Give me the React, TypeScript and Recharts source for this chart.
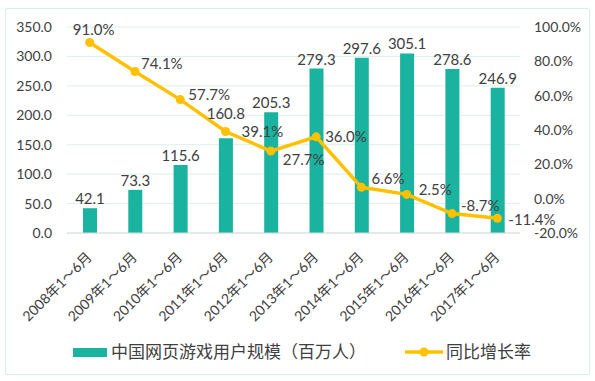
import React from "react"
import {
  ComposedChart,
  Bar,
  Line,
  XAxis,
  YAxis,
  CartesianGrid,
  LabelList,
  Legend,
} from "recharts"

const CATEGORIES = [
  "2008年1～6月",
  "2009年1～6月",
  "2010年1～6月",
  "2011年1～6月",
  "2012年1～6月",
  "2013年1～6月",
  "2014年1～6月",
  "2015年1～6月",
  "2016年1～6月",
  "2017年1～6月",
]
const USERS = [42.1, 73.3, 115.6, 160.8, 205.3, 279.3, 297.6, 305.1, 278.6, 246.9]
const GROWTH = [91.0, 74.1, 57.7, 39.1, 27.7, 36.0, 6.6, 2.5, -8.7, -11.4]
const LEFT_TICKS = [0, 50, 100, 150, 200, 250, 300, 350]
const RIGHT_TICKS = [-20, 0, 20, 40, 60, 80, 100]

const BAR_NAME = "中国网页游戏用户规模（百万人）"
const LINE_NAME = "同比增长率"

const TEAL = "#19b39f"
const GOLD = "#ffc000"
const TEXT = "#404040"
const FONT = "Lato, 'Noto Sans CJK SC', sans-serif"

// hand-placed label nudges, like the Excel original (dx, dy of baseline from dot)
const LINE_LABEL_NUDGE: [number, number][] = [
  [4, -7],
  [6, -2],
  [8, 0],
  [16, 5],
  [12, 14],
  [9, 5],
  [10, -3],
  [12, 1],
  [9, -3],
  [11, 7],
]

const data = CATEGORIES.map((name, i) => ({
  name,
  users: USERS[i],
  growth: GROWTH[i],
}))

function XTick(props: any) {
  const { x, y, payload } = props
  const px = x + 3
  const py = y + 25
  return (
    <text
      x={px}
      y={py}
      transform={`rotate(-45, ${px}, ${py})`}
      textAnchor="end"
      fontSize={14}
      fill={TEXT}
      fontFamily={FONT}
    >
      {payload.value}
    </text>
  )
}

function BarValueLabel(props: any) {
  const { x, y, width, value, index } = props
  // 2011 label sits higher so it clears the line
  const lift = index === 3 ? 15 : 0
  return (
    <text
      x={x + width / 2}
      y={y - 4 - lift}
      textAnchor="middle"
      fontSize={15}
      fill={TEXT}
      fontFamily={FONT}
    >
      {Number(value).toFixed(1)}
    </text>
  )
}

function LineValueLabel(props: any) {
  const { x, y, value, index } = props
  const [dx, dy] = LINE_LABEL_NUDGE[index] ?? [10, 5]
  return (
    <text
      x={x + dx}
      y={y + dy}
      textAnchor={index === 0 ? "middle" : "start"}
      fontSize={15}
      fill={TEXT}
      fontFamily={FONT}
    >
      {Number(value).toFixed(1)}%
    </text>
  )
}

function ChartLegend() {
  return (
    <div
      style={{
        position: "relative",
        width: 595,
        height: 24,
        fontFamily: FONT,
        fontSize: 17,
        color: TEXT,
      }}
    >
      <div
        style={{
          position: "absolute",
          left: 73,
          top: 8,
          width: 34,
          height: 9,
          background: TEAL,
        }}
      />
      <span style={{ position: "absolute", left: 111, top: 0, lineHeight: "24px", whiteSpace: "nowrap" }}>
        {BAR_NAME}
      </span>
      <svg style={{ position: "absolute", left: 405, top: 0 }} width={40} height={24}>
        <line x1={0} y1={12} x2={38} y2={12} stroke={GOLD} strokeWidth={3.5} />
        <circle cx={19} cy={12} r={4.5} fill={GOLD} />
      </svg>
      <span style={{ position: "absolute", left: 446, top: 0, lineHeight: "24px", whiteSpace: "nowrap" }}>
        {LINE_NAME}
      </span>
    </div>
  )
}

export default function App() {
  return (
    <div
      style={{
        position: "absolute",
        left: 0,
        top: 0,
        width: 595,
        height: 381,
        background: "#ffffff",
        fontFamily: FONT,
      }}
    >
      <div
        style={{
          position: "absolute",
          left: 5,
          top: 8,
          width: 583,
          height: 365,
          border: "1.5px solid #d3efe9",
          borderRadius: 2,
        }}
      />
      <ComposedChart
        width={595}
        height={381}
        data={data}
        margin={{ top: 27, right: 0, bottom: 10, left: 0 }}
        barSize={14}
        style={{ position: "absolute", left: 0, top: 0 }}
      >
        <CartesianGrid yAxisId="left" vertical={false} stroke="#dcefee" strokeWidth={1} />
        <XAxis
          dataKey="name"
          interval={0}
          height={114}
          tickLine={false}
          tickSize={0}
          tickMargin={0}
          axisLine={{ stroke: "#d9d9d9" }}
          tick={<XTick />}
        />
        <YAxis
          yAxisId="left"
          domain={[0, 350]}
          ticks={LEFT_TICKS}
          width={67}
          axisLine={false}
          tickLine={false}
          tickSize={0}
          tickMargin={15}
          tickFormatter={(v: number) => v.toFixed(1)}
          tick={{ fontSize: 14, fill: TEXT, fontFamily: FONT }}
        />
        <YAxis
          yAxisId="right"
          orientation="right"
          domain={[-20, 100]}
          ticks={RIGHT_TICKS}
          width={75}
          axisLine={false}
          tickLine={false}
          tickSize={0}
          tickMargin={14}
          tickFormatter={(v: number) => `${v.toFixed(1)}%`}
          tick={{ fontSize: 14, fill: TEXT, fontFamily: FONT, textAnchor: "start" }}
        />
        <Bar yAxisId="left" dataKey="users" name={BAR_NAME} fill={TEAL} isAnimationActive={false}>
          <LabelList dataKey="users" content={<BarValueLabel />} />
        </Bar>
        <Line
          yAxisId="right"
          dataKey="growth"
          name={LINE_NAME}
          stroke={GOLD}
          strokeWidth={3.5}
          dot={{ r: 4.5, fill: GOLD, stroke: GOLD, strokeWidth: 0 }}
          activeDot={false}
          isAnimationActive={false}
        >
          <LabelList dataKey="growth" content={<LineValueLabel />} />
        </Line>
        <Legend
          verticalAlign="bottom"
          content={() => <ChartLegend />}
          wrapperStyle={{ left: 0, top: 340, width: 595, height: 24 }}
        />
      </ComposedChart>
    </div>
  )
}
